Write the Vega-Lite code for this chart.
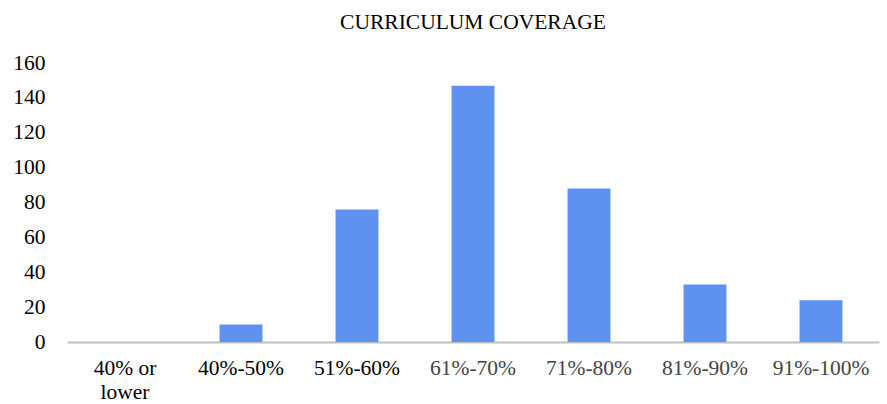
{
  "$schema": "https://vega.github.io/schema/vega-lite/v6.json",
  "width": 812,
  "height": 279,
  "autosize": {"type": "none"},
  "padding": {"left": 67, "top": 63, "right": 8, "bottom": 62},
  "background": "white",
  "title": {
    "text": "CURRICULUM COVERAGE",
    "font": "Liberation Serif",
    "fontSize": 21.5,
    "fontWeight": "normal",
    "color": "#000000",
    "anchor": "middle",
    "offset": 19
  },
  "data": {
    "values": [
      {"range": "40% or lower", "count": 0},
      {"range": "40%-50%", "count": 10},
      {"range": "51%-60%", "count": 76},
      {"range": "61%-70%", "count": 147},
      {"range": "71%-80%", "count": 88},
      {"range": "81%-90%", "count": 33},
      {"range": "91%-100%", "count": 24}
    ]
  },
  "config": {
    "view": {"stroke": null},
    "axis": {"labelFont": "Liberation Serif", "labelFontSize": 21.5}
  },
  "mark": {"type": "bar", "color": "#5f92f0"},
  "encoding": {
    "x": {
      "field": "range",
      "type": "nominal",
      "sort": null,
      "scale": {"paddingInner": 0.63, "paddingOuter": 0.315},
      "axis": {
        "title": null,
        "labelAngle": 0,
        "ticks": false,
        "domainColor": "#bfbfbf",
        "domainWidth": 2,
        "labelPadding": 15,
        "labelColor": {
          "condition": {"test": "indexof(['40% or lower','40%-50%','51%-60%'], datum.value) >= 0", "value": "#000000"},
          "value": "#444444"
        },
        "labelExpr": "datum.value == '40% or lower' ? ['40% or', 'lower'] : datum.value",
        "labelLineHeight": 24
      }
    },
    "y": {
      "field": "count",
      "type": "quantitative",
      "scale": {"domain": [0, 160], "nice": false},
      "axis": {
        "title": null,
        "values": [0, 20, 40, 60, 80, 100, 120, 140, 160],
        "grid": false,
        "domain": false,
        "ticks": false,
        "labelPadding": 22,
        "labelColor": "#000000"
      }
    }
  }
}
